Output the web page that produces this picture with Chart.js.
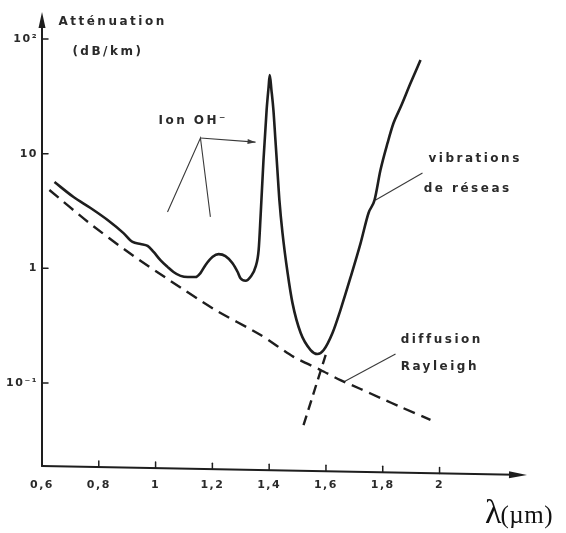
<!DOCTYPE html>
<html lang="fr">
<head>
  <meta charset="UTF-8" />
  <title>Atténuation d'une fibre</title>
  <script src="https://cdn.jsdelivr.net/npm/chart.js"></script>
  <style>
    html, body { margin: 0; padding: 0; background: #fff; }
    #wrap { width: 566px; height: 533px; }
  </style>
</head>
<body>
  <div id="wrap"><canvas id="c" width="566" height="533"></canvas></div>

  <script>
    // courbe d'atténuation totale (µm, dB/km)
    const lambdaTotal = [0.644, 0.711, 0.771, 0.831, 0.887, 0.919, 0.947, 0.972, 0.993, 1.017,
      1.042, 1.063, 1.088, 1.113, 1.141, 1.158, 1.176, 1.201, 1.222, 1.246,
      1.271, 1.289, 1.299, 1.317, 1.334, 1.352, 1.363, 1.370, 1.380, 1.391,
      1.398, 1.402, 1.408, 1.415, 1.422, 1.429, 1.436, 1.447, 1.465, 1.482,
      1.511, 1.546, 1.570, 1.592, 1.623, 1.651, 1.687, 1.722, 1.750, 1.771,
      1.792, 1.817, 1.838, 1.863, 1.898, 1.933];
    const attTotal = [5.66, 4.19, 3.36, 2.64, 2.03, 1.70, 1.63, 1.57, 1.39, 1.18,
      1.03, 0.93, 0.86, 0.84, 0.84, 0.91, 1.07, 1.26, 1.33, 1.28,
      1.11, 0.93, 0.82, 0.78, 0.84, 1.03, 1.45, 2.92, 8.8, 24,
      38.1, 48.5, 35.9, 24.0, 13.2, 7.2, 3.94, 2.03, 0.91, 0.50,
      0.273, 0.194, 0.179, 0.194, 0.273, 0.433, 0.841, 1.66, 3.04, 3.94,
      7.2, 12.4, 18.5, 25.5, 41.3, 65.5];

    // diffusion Rayleigh (tirets)
    const lambdaRayleigh = [0.626, 0.767, 0.908, 1.053, 1.204, 1.370, 1.486, 1.581, 1.651, 1.722, 1.792, 1.863, 1.968];
    const attRayleigh = [4.82, 2.48, 1.36, 0.776, 0.443, 0.262, 0.169, 0.130, 0.106, 0.0887, 0.0741, 0.0618, 0.0477];

    // absorption infrarouge extrapolée (tirets)
    const lambdaIR = [1.521, 1.599];
    const attIR = [0.043, 0.176];

    const xTickValues = [0.6, 0.8, 1, 1.2, 1.4, 1.6, 1.8, 2];
    const xTickLabels = ['0,6', '0,8', '1', '1,2', '1,4', '1,6', '1,8', '2'];
    const yTickValues = [0.1, 1, 10, 100];
    const yTickLabels = ['10⁻¹', '1', '10', '10²'];

    // annotations (texte + traits de rappel)
    const noteTexts = ['Atténuation', '(dB/km)', 'Ion OH⁻', 'vibrations', 'de réseas', 'diffusion', 'Rayleigh'];
    const noteX = [0.658, 0.707, 1.010, 1.961, 1.944, 1.863, 1.863];
    const noteY = [140.6, 76.9, 19.3, 8.97, 4.92, 0.237, 0.138];

    const leaderOHx = [1.042, 1.158, 1.193];
    const leaderOHy = [3.10, 13.7, 2.81];
    const arrowOHx = [1.158, 1.352];
    const arrowOHy = [13.7, 12.6];
    const leaderVibX = [1.940, 1.775];
    const leaderVibY = [6.78, 3.94];
    const leaderRayX = [1.845, 1.662];
    const leaderRayY = [0.179, 0.102];

    const pts = (xs, ys) => xs.map((v, i) => ({ x: v, y: ys[i] }));
    const ink = '#1e1e1e';

    const leader = (xs, ys) => ({
      data: pts(xs, ys),
      borderColor: '#3a3a3a',
      borderWidth: 1.1,
      pointRadius: 0,
      tension: 0
    });

    function arrowHead(ctx, x0, y0, x1, y1, len, half) {
      const ang = Math.atan2(y1 - y0, x1 - x0);
      ctx.beginPath();
      ctx.moveTo(x1, y1);
      ctx.lineTo(x1 - len * Math.cos(ang) + half * Math.sin(ang), y1 - len * Math.sin(ang) - half * Math.cos(ang));
      ctx.lineTo(x1 - len * Math.cos(ang) - half * Math.sin(ang), y1 - len * Math.sin(ang) + half * Math.cos(ang));
      ctx.closePath();
      ctx.fill();
    }

    const axesPlugin = {
      id: 'axes',
      beforeDraw(chart) {
        chart.ctx.letterSpacing = '1.5px';
      },
      afterDraw(chart) {
        const { ctx, chartArea: a, scales: { x, y } } = chart;
        const tilt = 9;
        const yAt = px => a.bottom + tilt * (px - a.left) / (a.right - a.left);

        ctx.save();
        ctx.strokeStyle = ink;
        ctx.fillStyle = ink;
        ctx.lineWidth = 2;
        ctx.lineCap = 'round';

        // axe vertical
        ctx.beginPath();
        ctx.moveTo(a.left, a.bottom);
        ctx.lineTo(a.left, a.top + 12);
        ctx.stroke();
        arrowHead(ctx, a.left, a.bottom, a.left, a.top, 16, 3.5);

        // axe horizontal
        ctx.beginPath();
        ctx.moveTo(a.left, a.bottom);
        ctx.lineTo(a.right - 12, yAt(a.right - 12));
        ctx.stroke();
        arrowHead(ctx, a.left, a.bottom, a.right, yAt(a.right), 18, 3.5);

        // graduations
        ctx.lineWidth = 1.5;
        xTickValues.forEach(v => {
          if (v === xTickValues[0]) return;
          const px = x.getPixelForValue(v);
          ctx.beginPath();
          ctx.moveTo(px, yAt(px));
          ctx.lineTo(px, yAt(px) - 6);
          ctx.stroke();
        });
        yTickValues.forEach(v => {
          const py = y.getPixelForValue(v);
          ctx.beginPath();
          ctx.moveTo(a.left, py);
          ctx.lineTo(a.left + 6, py);
          ctx.stroke();
        });

        // flèche du rappel "Ion OH"
        const m = chart.getDatasetMeta(4).data;
        ctx.fillStyle = '#3a3a3a';
        arrowHead(ctx, m[0].x, m[0].y, m[1].x, m[1].y, 8, 2.5);

        // textes
        ctx.fillStyle = '#2a2a2a';
        ctx.font = 'bold 12px "DejaVu Sans"';
        ctx.letterSpacing = '2.5px';
        ctx.textAlign = 'left';
        ctx.textBaseline = 'middle';
        noteTexts.forEach((t, i) => {
          ctx.fillText(t, x.getPixelForValue(noteX[i]), y.getPixelForValue(noteY[i]));
        });

        // titre de l'axe des abscisses
        ctx.letterSpacing = '0px';
        ctx.fillStyle = '#111';
        ctx.textBaseline = 'alphabetic';
        const tx = a.right - 42, ty = a.bottom + 57;
        ctx.font = '34px "Liberation Serif"';
        ctx.fillText('λ', tx, ty);
        const w = ctx.measureText('λ').width;
        ctx.font = '25px "Liberation Serif"';
        ctx.letterSpacing = '0.5px';
        ctx.fillText('(µm)', tx + w - 1, ty);

        ctx.restore();
      }
    };

    new Chart(document.getElementById('c'), {
      type: 'line',
      data: {
        datasets: [
          {
            data: pts(lambdaTotal, attTotal),
            borderColor: ink,
            borderWidth: 2.6,
            pointRadius: 0,
            cubicInterpolationMode: 'monotone'
          },
          {
            data: pts(lambdaRayleigh, attRayleigh),
            borderColor: ink,
            borderWidth: 2.4,
            borderDash: [12, 7],
            pointRadius: 0,
            tension: 0.25
          },
          {
            data: pts(lambdaIR, attIR),
            borderColor: ink,
            borderWidth: 2.4,
            borderDash: [10, 6],
            pointRadius: 0
          },
          leader(leaderOHx, leaderOHy),
          leader(arrowOHx, arrowOHy),
          leader(leaderVibX, leaderVibY),
          leader(leaderRayX, leaderRayY)
        ]
      },
      options: {
        responsive: false,
        animation: false,
        layout: { padding: { top: 12, right: 39, bottom: 0, left: 0 } },
        plugins: {
          legend: { display: false },
          tooltip: { enabled: false }
        },
        scales: {
          x: {
            type: 'linear',
            min: 0.6,
            max: 2.308,
            grid: { display: false, drawTicks: false },
            border: { display: false },
            afterBuildTicks: s => { s.ticks = xTickValues.map(v => ({ value: v })); },
            afterFit: s => { s.height = 67; },
            ticks: {
              autoSkip: false,
              maxRotation: 0,
              padding: 13,
              color: '#2a2a2a',
              font: { family: 'DejaVu Sans', size: 11, weight: 'bold' },
              callback: v => xTickLabels[xTickValues.indexOf(v)]
            }
          },
          y: {
            type: 'logarithmic',
            min: 0.0189,
            max: 172,
            grid: { display: false, drawTicks: false },
            border: { display: false },
            afterBuildTicks: s => { s.ticks = yTickValues.map(v => ({ value: v })); },
            afterFit: s => { s.width = 42; },
            ticks: {
              autoSkip: false,
              padding: 4,
              color: '#2a2a2a',
              font: { family: 'DejaVu Sans', size: 11, weight: 'bold' },
              callback: v => yTickLabels[yTickValues.indexOf(v)]
            }
          }
        }
      },
      plugins: [axesPlugin]
    });
  </script>
</body>
</html>
